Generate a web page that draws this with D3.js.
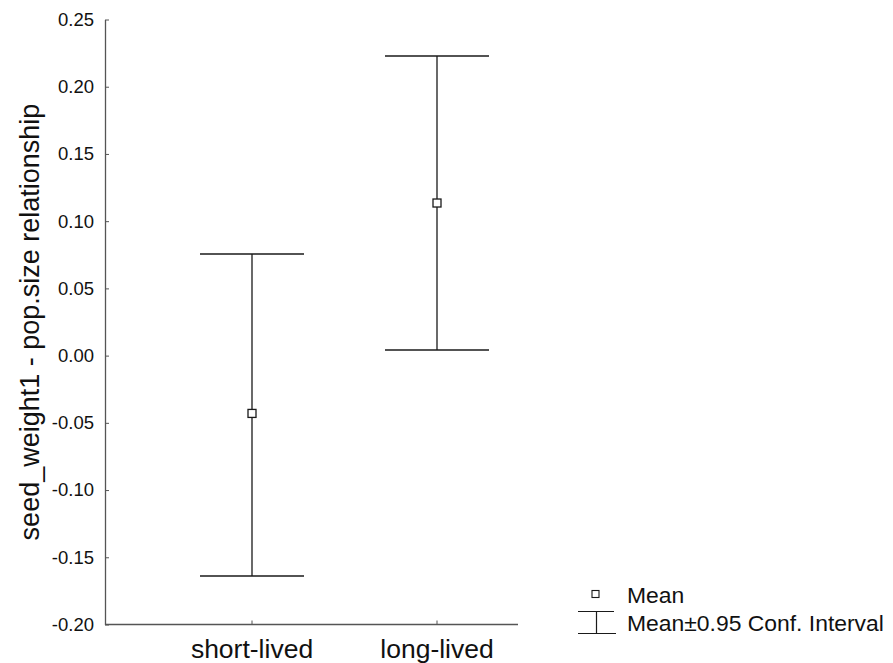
<!DOCTYPE html>
<html>
<head>
<meta charset="utf-8">
<script src="https://cdn.jsdelivr.net/npm/d3@7"></script>
<style>
  html, body { margin: 0; padding: 0; background: #fff; }
  svg { display: block; font-family: "Liberation Sans", Arial, sans-serif; }
</style>
</head>
<body>
<svg id="chart" width="893" height="663"></svg>
<script>
// Group means with 0.95 confidence limits
const categories = ["short-lived", "long-lived"];
const means = [-0.043, 0.1135];
const lowerCI = [-0.164, 0.0041];
const upperCI = [0.0755, 0.2228];
const yTicks = [-0.20, -0.15, -0.10, -0.05, 0.00, 0.05, 0.10, 0.15, 0.20, 0.25];
const yLabel = "seed_weight1 - pop.size relationship";
const legendLabels = ["Mean", "Mean±0.95 Conf. Interval"];

const svg = d3.select("#chart");

const axisLeftX = 105, axisRightX = 518;
const plotTop = 19.5, plotBottom = 624.5;

const y = d3.scaleLinear().domain([-0.20, 0.25]).range([plotBottom, plotTop]);
const x = d3.scalePoint().domain(categories).range([252, 437]);

const axisColor = "#555";
const markColor = "#1a1a1a";

// Y axis
const yAxis = svg.append("g")
  .attr("transform", `translate(${axisLeftX},0)`)
  .call(d3.axisLeft(y).tickValues(yTicks).tickSize(-4).tickPadding(11)
    .tickFormat(d3.format(".2f")).tickSizeOuter(0));
yAxis.select(".domain").attr("stroke", axisColor).attr("stroke-width", 1.3);
yAxis.selectAll(".tick line").attr("stroke", axisColor);
yAxis.selectAll(".tick text")
  .attr("fill", "#111").style("font-size", "18.5px")
  .text(d => d3.format(".2f")(d).replace("−", "-"));

// X axis
const xAxis = svg.append("g")
  .attr("transform", `translate(0,${plotBottom})`);
xAxis.append("line")
  .attr("x1", axisLeftX).attr("x2", axisRightX)
  .attr("stroke", axisColor).attr("stroke-width", 1.3);
xAxis.selectAll(".xtick").data(categories).join("line")
  .attr("x1", d => x(d)).attr("x2", d => x(d))
  .attr("y1", 0).attr("y2", -4)
  .attr("stroke", axisColor);
xAxis.selectAll(".xlabel").data(categories).join("text")
  .attr("x", d => x(d)).attr("y", 33.5)
  .attr("text-anchor", "middle")
  .attr("fill", "#111").style("font-size", "26.5px")
  .text(d => d);

// Y axis title
svg.append("text")
  .attr("transform", `translate(39,${(plotTop + plotBottom) / 2}) rotate(-90)`)
  .attr("text-anchor", "middle")
  .attr("fill", "#111").style("font-size", "27px")
  .text(yLabel);

// Error bars
const capHalf = 52;
const rows = categories.map((c, i) => ({ c, m: means[i], lo: lowerCI[i], hi: upperCI[i] }));
const bars = svg.append("g").selectAll("g").data(rows).join("g");
bars.append("line")
  .attr("x1", d => x(d.c)).attr("x2", d => x(d.c))
  .attr("y1", d => y(d.hi)).attr("y2", d => y(d.lo))
  .attr("stroke", markColor).attr("stroke-width", 1.3);
bars.append("line")
  .attr("x1", d => x(d.c) - capHalf).attr("x2", d => x(d.c) + capHalf)
  .attr("y1", d => y(d.hi)).attr("y2", d => y(d.hi))
  .attr("stroke", markColor).attr("stroke-width", 1.5);
bars.append("line")
  .attr("x1", d => x(d.c) - capHalf).attr("x2", d => x(d.c) + capHalf)
  .attr("y1", d => y(d.lo)).attr("y2", d => y(d.lo))
  .attr("stroke", markColor).attr("stroke-width", 1.5);
bars.append("rect")
  .attr("x", d => x(d.c) - 4).attr("y", d => y(d.m) - 4)
  .attr("width", 8).attr("height", 8)
  .attr("fill", "#fff").attr("stroke", markColor).attr("stroke-width", 1.3);

// Legend
const legend = svg.append("g");
legend.append("rect")
  .attr("x", 592).attr("y", 590.5).attr("width", 7).attr("height", 7)
  .attr("fill", "#fff").attr("stroke", markColor).attr("stroke-width", 1.1);
legend.append("line").attr("x1", 578).attr("x2", 614).attr("y1", 611.5).attr("y2", 611.5)
  .attr("stroke", markColor).attr("stroke-width", 1.2);
legend.append("line").attr("x1", 578).attr("x2", 616).attr("y1", 633.5).attr("y2", 633.5)
  .attr("stroke", markColor).attr("stroke-width", 1.2);
legend.append("line").attr("x1", 596.5).attr("x2", 596.5).attr("y1", 611.5).attr("y2", 633.5)
  .attr("stroke", markColor).attr("stroke-width", 1.2);
legend.selectAll("text").data(legendLabels).join("text")
  .attr("x", 627).attr("y", (d, i) => 602.5 + i * 28.3)
  .attr("fill", "#111").style("font-size", "22.9px")
  .text(d => d);
</script>
</body>
</html>
